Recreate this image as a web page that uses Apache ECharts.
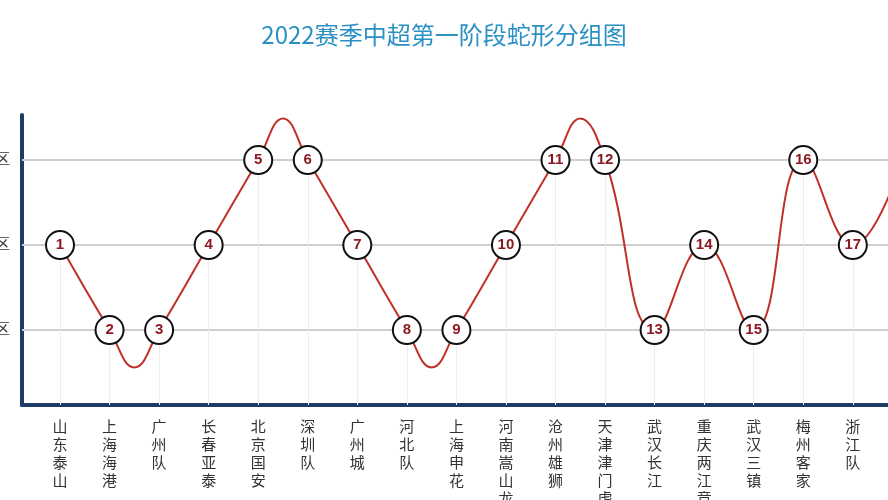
<!DOCTYPE html>
<html><head><meta charset="utf-8">
<script src="https://cdn.jsdelivr.net/npm/echarts@6/dist/echarts.min.js"></script>
<style>html,body{margin:0;padding:0;background:#fff}#c{width:888px;height:500px}</style>
</head><body><div id="c"></div>
<script>
const teams = ['山东泰山','上海海港','广州队','长春亚泰','北京国安','深圳队','广州城','河北队','上海申花','河南嵩山龙门','沧州雄狮','天津津门虎','武汉长江','重庆两江竞技','武汉三镇','梅州客家','浙江队','成都蓉城'];
const seeds = [1,2,3,4,5,6,7,8,9,10,11,12,13,14,15,16,17,18];
const levels = [2,1,1,2,3,3,2,1,1,2,3,3,1,2,1,3,2,3];
// curve turning points between seeds (x index, level)
const turns = [[1.5,0.56],[4.5,3.49],[7.5,0.56],[10.5,3.49]];
const zoneNames = ['C区','B区','A区'];
const zoneLevels = [1,2,3];

const pts = [];
teams.forEach((t,i)=>pts.push({value:[i,levels[i]],seed:seeds[i]}));
turns.forEach(p=>pts.push({value:p,symbol:'none',seed:null}));
pts.sort((a,b)=>a.value[0]-b.value[0]);

const yMin = 0.118;
const chart = echarts.init(document.getElementById('c'));
chart.setOption({
  animation:false,
  title:{text:'2022赛季中超第一阶段蛇形分组图',left:'center',top:18,
    textStyle:{color:'#2b90c3',fontSize:24,fontWeight:'normal',fontFamily:'Noto Sans CJK SC'}},
  grid:{left:22,right:0,top:115,bottom:95,outerBoundsMode:'none',containLabel:false},
  xAxis:{type:'value',min:-0.767,max:16.71,
    axisLine:{show:true,onZero:false,lineStyle:{color:'#1d3d66',width:4}},
    axisTick:{show:false},splitLine:{show:false},
    axisLabel:{customValues:teams.map((t,i)=>i),margin:12,color:'#333',fontSize:15,lineHeight:18,
      fontFamily:'Noto Sans CJK SC',verticalAlign:'top',
      formatter:v=>teams[Math.round(v)].split('').join('\n')}},
  yAxis:{type:'value',min:yMin,max:3.53,
    axisLine:{show:true,onZero:false,lineStyle:{color:'#1d3d66',width:4}},
    axisTick:{show:false},axisLabel:{show:false},splitLine:{show:false}},
  series:[{
    type:'line',smooth:0.45,clip:true,data:pts,z:3,
    lineStyle:{color:'#c0302a',width:2},
    symbol:'circle',symbolSize:28,showAllSymbol:true,
    itemStyle:{color:'#fff',borderColor:'#111',borderWidth:2,opacity:1},
    label:{show:true,position:'inside',color:'#8b1a22',fontWeight:'bold',fontSize:15,
      formatter:p=>p.data.seed==null?'':String(p.data.seed)},
    markLine:{silent:true,symbol:'none',z:1,
      data:[
        ...zoneLevels.map((l,k)=>({yAxis:l,lineStyle:{color:'#cfcfcf',width:2,type:'solid'},
          label:{show:true,position:'start',formatter:zoneNames[k],color:'#333',fontSize:15,distance:12}})),
        ...teams.map((t,i)=>[{coord:[i,yMin],lineStyle:{color:'#ececec',width:1,type:'solid'},label:{show:false}},{coord:[i,levels[i]]}])
      ]}
  }]
});
</script></body></html>
